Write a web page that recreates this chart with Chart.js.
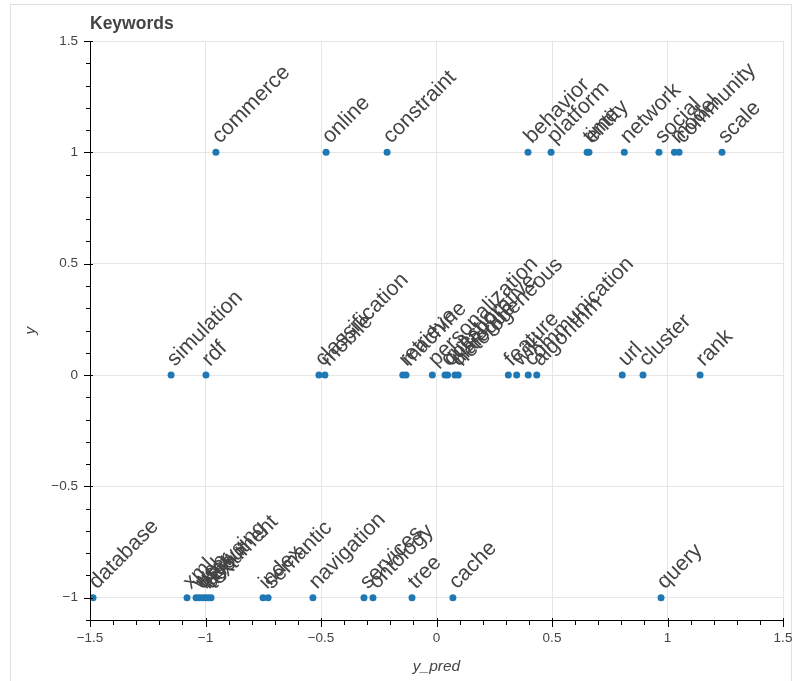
<!DOCTYPE html>
<html>
<head>
<meta charset="utf-8">
<script src="https://cdn.jsdelivr.net/npm/chart.js@4"></script>
<style>
  body { margin: 0; background: #fff; }
  #wrap { position: relative; width: 793px; height: 681px; overflow: hidden; }
  #frame { position: absolute; left: 10px; top: 4px; width: 780px; height: 700px; border: 1px solid #e0e0e0; }
  canvas { position: absolute; left: 0; top: 0; }
</style>
</head>
<body>
<div id="wrap">
  <div id="frame"></div>
  <canvas id="wykres" width="793" height="681"></canvas>
</div>
<script>
// slowa kluczowe i ich pozycje (y_pred na osi x, y na osi y)
const keywords = [
    'commerce', 'online', 'constraint', 'behavior', 'platform', 'time', 'entity',
    'network', 'social', 'model', 'community', 'scale',
    'simulation', 'rdf', 'classification', 'mobile', 'retrieve', 'machine',
    'personalization', 'question', 'collaborative', 'dialogue', 'heterogeneous',
    'feature', 'wiki', 'communication', 'algorithm', 'url', 'cluster', 'rank',
    'database', 'xml', 'web', 'user', 'browsing', 'layout', 'document', 'text',
    'index', 'semantic', 'navigation', 'services', 'ontology', 'tree', 'cache', 'query'
];
const yPred = [
    -0.955, -0.478, -0.214, 0.396, 0.496, 0.652, 0.660,
    0.813, 0.963, 1.030, 1.050, 1.236,
    -1.149, -0.998, -0.509, -0.483, -0.146, -0.132,
    -0.018, 0.037, 0.048, 0.080, 0.094,
    0.311, 0.347, 0.397, 0.434, 0.804, 0.894, 1.141,
    -1.487, -1.080, -1.041, -1.028, -1.015, -1.002, -0.989, -0.976,
    -0.751, -0.729, -0.535, -0.314, -0.275, -0.106, 0.071, 0.972
];
const yTrue = [
    1, 1, 1, 1, 1, 1, 1, 1, 1, 1, 1, 1,
    0, 0, 0, 0, 0, 0, 0, 0, 0, 0, 0, 0, 0, 0, 0, 0, 0, 0,
    -1, -1, -1, -1, -1, -1, -1, -1, -1, -1, -1, -1, -1, -1, -1, -1
];
const tickStep = 0.1;

const punkty = yPred.map((x, i) => ({ x: x, y: yTrue[i] }));

function isMajor(v) {
    return Math.abs(Math.round(v * 10)) % 5 === 0;
}
function formatTick(v) {
    const r = Math.round(v * 10) / 10;
    return String(r).replace('-', '\u2212');
}

// podpisy punktow, osie w stylu bokeh i tytul
const podpisy = {
    id: 'podpisy',
    afterDatasetsDraw(chart) {
        const ctx = chart.ctx;
        const meta = chart.getDatasetMeta(0);
        ctx.save();
        ctx.font = '21.5px "Liberation Sans", Arial, sans-serif';
        ctx.fillStyle = '#444444';
        ctx.textBaseline = 'alphabetic';
        meta.data.forEach((pt, i) => {
            ctx.save();
            ctx.translate(pt.x + 4, pt.y - 8);
            ctx.rotate(-Math.PI / 4);
            ctx.fillText(keywords[i], 0, 0);
            ctx.restore();
        });
        ctx.restore();
    },
    afterDraw(chart) {
        const ctx = chart.ctx;
        const xs = chart.scales.x, ys = chart.scales.y;
        const area = chart.chartArea;
        ctx.save();
        ctx.strokeStyle = '#000';
        ctx.lineWidth = 1;
        ctx.beginPath();
        ctx.moveTo(area.left + 0.5, area.top);
        ctx.lineTo(area.left + 0.5, area.bottom + 0.5);
        ctx.lineTo(area.right, area.bottom + 0.5);
        ctx.stroke();
        ctx.beginPath();
        xs.ticks.forEach(t => {
            const px = Math.round(xs.getPixelForValue(t.value)) + 0.5;
            const major = isMajor(t.value);
            ctx.moveTo(px, area.bottom + (major ? -2 : 0));
            ctx.lineTo(px, area.bottom + (major ? 7 : 5));
        });
        ys.ticks.forEach(t => {
            const py = Math.round(ys.getPixelForValue(t.value)) + 0.5;
            const major = isMajor(t.value);
            ctx.moveTo(area.left + (major ? 3 : 0), py);
            ctx.lineTo(area.left - (major ? 6 : 4), py);
        });
        ctx.stroke();
        ctx.font = 'bold 17.5px "Liberation Sans", Arial, sans-serif';
        ctx.fillStyle = '#444444';
        ctx.textBaseline = 'alphabetic';
        ctx.fillText('Keywords', area.left, 29);
        ctx.restore();
    }
};

const tickFont = { family: '"Liberation Sans", Arial, sans-serif', size: 13.5 };
const titleFont = { family: '"Liberation Sans", Arial, sans-serif', size: 15.5, style: 'italic' };

new Chart(document.getElementById('wykres'), {
    type: 'scatter',
    data: {
        datasets: [{
            data: punkty,
            backgroundColor: '#1f77b4',
            borderWidth: 0,
            pointRadius: 3.5,
            pointHoverRadius: 3.5
        }]
    },
    options: {
        responsive: false,
        animation: false,
        devicePixelRatio: 1,
        events: [],
        layout: { padding: { top: 41, right: 0, left: 0, bottom: 0 } },
        plugins: {
            legend: { display: false },
            tooltip: { enabled: false }
        },
        scales: {
            x: {
                type: 'linear',
                min: -1.5,
                max: 1.5,
                afterFit: (s) => { s.height = 61; s.paddingRight = 10; },
                border: { display: false },
                grid: {
                    drawTicks: false,
                    color: (c) => (c.tick && isMajor(c.tick.value)) ? '#e6e6e6' : 'rgba(0,0,0,0)'
                },
                ticks: {
                    stepSize: tickStep,
                    autoSkip: false,
                    maxRotation: 0,
                    padding: 10,
                    color: '#444444',
                    font: tickFont,
                    callback: (v) => isMajor(v) ? formatTick(v) : ''
                },
                title: {
                    display: true,
                    text: 'y_pred',
                    color: '#444444',
                    font: titleFont,
                    padding: { top: 0, bottom: 5 }
                }
            },
            y: {
                type: 'linear',
                min: -1.1,
                max: 1.5,
                afterFit: (s) => { s.width = 90; },
                border: { display: false },
                grid: {
                    drawTicks: false,
                    color: (c) => (c.tick && isMajor(c.tick.value)) ? '#e6e6e6' : 'rgba(0,0,0,0)'
                },
                ticks: {
                    stepSize: tickStep,
                    autoSkip: false,
                    padding: 12,
                    color: '#444444',
                    font: tickFont,
                    callback: (v) => isMajor(v) ? formatTick(v) : ''
                },
                title: {
                    display: true,
                    text: 'y',
                    color: '#444444',
                    font: titleFont,
                    padding: { top: 21, bottom: 0 }
                }
            }
        }
    },
    plugins: [podpisy]
});
</script>
</body>
</html>
